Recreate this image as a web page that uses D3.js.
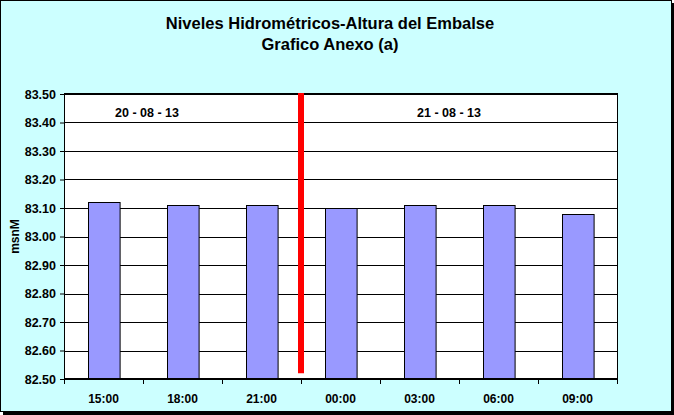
<!DOCTYPE html>
<html>
<head>
<meta charset="utf-8">
<script src="https://cdn.jsdelivr.net/npm/d3@7"></script>
<style>
    body { margin: 0; background: #fff; }
    svg { display: block; font-family: "Liberation Sans", Arial, sans-serif; }
</style>
</head>
<body>
<svg id="chart"></svg>
<script>
/* ---- data ---- */
const hours = ["15:00", "18:00", "21:00", "00:00", "03:00", "06:00", "09:00"];
const levels = [83.12, 83.11, 83.11, 83.10, 83.11, 83.11, 83.08];
const yTicks = [82.5, 82.6, 82.7, 82.8, 82.9, 83.0, 83.1, 83.2, 83.3, 83.4, 83.5];
const dayLabels = [
    { text: "20 - 08 - 13", from: 0, to: 2 },
    { text: "21 - 08 - 13", from: 3, to: 6 }
];
const dayBreak = 3;          // red line sits before this category
const redLineRange = [82.52, 83.5];

/* ---- setup ---- */
const width = 674, height = 415;
const margin = { top: 94, right: 57, bottom: 36, left: 64 };

const svg = d3.select("#chart")
    .attr("width", width)
    .attr("height", height);

// frame with shadow
svg.append("rect")
    .attr("x", 3).attr("y", 3)
    .attr("width", 671).attr("height", 412)
    .attr("fill", "#000");
svg.append("rect")
    .attr("x", 0.5).attr("y", 0.5)
    .attr("width", 671).attr("height", 411)
    .attr("fill", "#ccffff")
    .attr("stroke", "#000");

const plotW = width - margin.left - margin.right;
const plotH = height - margin.top - margin.bottom;

const x = d3.scaleBand()
    .domain(hours)
    .range([margin.left, margin.left + plotW])
    .paddingInner(0.6)
    .paddingOuter(0.3);

const y = d3.scaleLinear()
    .domain([82.5, 83.5])
    .range([margin.top + plotH, margin.top]);

// plot background
svg.append("rect")
    .attr("x", margin.left).attr("y", margin.top)
    .attr("width", plotW).attr("height", plotH)
    .attr("fill", "#fff");

// gridlines
svg.append("g")
    .selectAll("line")
    .data(yTicks.slice(1))
    .join("line")
    .attr("x1", margin.left).attr("x2", margin.left + plotW)
    .attr("y1", d => Math.round(y(d)) + 0.5)
    .attr("y2", d => Math.round(y(d)) + 0.5)
    .attr("stroke", "#000");

// bars
svg.append("g")
    .selectAll("rect")
    .data(levels)
    .join("rect")
    .attr("x", (d, i) => Math.round(x(hours[i])) + 0.5)
    .attr("y", d => Math.round(y(d)) + 0.5)
    .attr("width", x.bandwidth())
    .attr("height", d => y(82.5) - Math.round(y(d)) - 0.5)
    .attr("fill", "#9999ff")
    .attr("stroke", "#000");

// plot border
svg.append("rect")
    .attr("x", margin.left + 0.5).attr("y", margin.top + 0.5)
    .attr("width", plotW).attr("height", plotH)
    .attr("fill", "none")
    .attr("stroke", "#000");
svg.append("line")
    .attr("x1", margin.left).attr("x2", margin.left + plotW + 1)
    .attr("y1", margin.top).attr("y2", margin.top)
    .attr("stroke", "#000").attr("stroke-width", 2);
svg.append("line")
    .attr("x1", margin.left).attr("x2", margin.left + plotW + 1)
    .attr("y1", margin.top + plotH).attr("y2", margin.top + plotH)
    .attr("stroke", "#000").attr("stroke-width", 2);

// red day separator
const step = x.step();
const sepX = x(hours[dayBreak]) - (step - x.bandwidth()) / 2;
svg.append("line")
    .attr("x1", sepX).attr("x2", sepX)
    .attr("y1", y(redLineRange[1]) - 1)
    .attr("y2", y(redLineRange[0]))
    .attr("stroke", "#ff0000")
    .attr("stroke-width", 6);

// y axis
const yAxis = d3.axisLeft(y)
    .tickValues(yTicks)
    .tickFormat(d3.format(".2f"))
    .tickSize(4)
    .tickPadding(4);

const yG = svg.append("g")
    .attr("transform", `translate(${margin.left},0)`)
    .call(yAxis);
yG.select(".domain").remove();
yG.selectAll("line").attr("stroke", "#000");
yG.selectAll("text")
    .attr("fill", "#000")
    .style("font-size", "12.5px")
    .style("font-weight", "bold")
    .style("font-family", "Liberation Sans, Arial, sans-serif");

// x axis: ticks at category boundaries
const boundaries = d3.range(hours.length + 1)
    .map(i => margin.left + i * step);
svg.append("g")
    .selectAll("line")
    .data(boundaries)
    .join("line")
    .attr("x1", d => Math.round(d) + 0.5).attr("x2", d => Math.round(d) + 0.5)
    .attr("y1", margin.top + plotH).attr("y2", margin.top + plotH + 5)
    .attr("stroke", "#000");

svg.append("g")
    .selectAll("text")
    .data(hours)
    .join("text")
    .attr("x", d => x(d) + x.bandwidth() / 2)
    .attr("y", margin.top + plotH + 24)
    .attr("text-anchor", "middle")
    .style("font-size", "12px")
    .style("font-weight", "bold")
    .text(d => d);

// day labels
svg.append("g")
    .selectAll("text")
    .data(dayLabels)
    .join("text")
    .attr("x", d => d.from === 0 ? 147 : 449)
    .attr("y", 117)
    .attr("text-anchor", "middle")
    .style("font-size", "12.5px")
    .style("font-weight", "bold")
    .text(d => d.text);

// y axis title
svg.append("text")
    .attr("transform", `translate(19, ${margin.top + plotH / 2}) rotate(-90)`)
    .attr("text-anchor", "middle")
    .style("font-size", "12px")
    .style("font-weight", "bold")
    .text("msnM");

// title
const title = svg.append("text")
    .attr("text-anchor", "middle")
    .style("font-size", "16.5px")
    .style("font-weight", "bold");
title.append("tspan").attr("x", 330).attr("y", 29)
    .text("Niveles Hidrométricos-Altura del Embalse");
title.append("tspan").attr("x", 330).attr("y", 50)
    .text("Grafico Anexo (a)");
</script>
</body>
</html>
